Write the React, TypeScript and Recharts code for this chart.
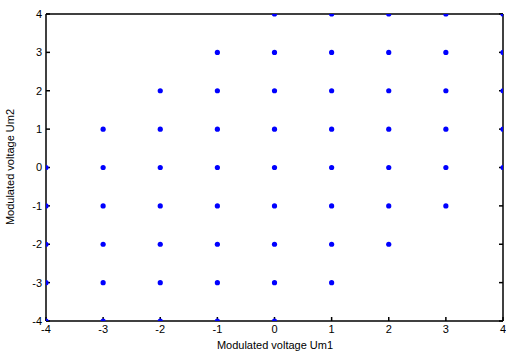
import React from 'react';
import { ScatterChart, Scatter, XAxis, YAxis, Label } from 'recharts';

// grid levels used for both axes
const LEVELS = [-4, -3, -2, -1, 0, 1, 2, 3, 4];

// x positions of the dots on each Um2 row
const ROW_P4 = [0, 1, 2, 3, 4];
const ROW_P3 = [-1, 0, 1, 2, 3, 4];
const ROW_P2 = [-2, -1, 0, 1, 2, 3, 4];
const ROW_P1 = [-3, -2, -1, 0, 1, 2, 3, 4];
const ROW_0 = [-4, -3, -2, -1, 0, 1, 2, 3, 4];
const ROW_M1 = [-4, -3, -2, -1, 0, 1, 2, 3];
const ROW_M2 = [-4, -3, -2, -1, 0, 1, 2];
const ROW_M3 = [-4, -3, -2, -1, 0, 1];
const ROW_M4 = [-4, -3, -2, -1, 0];

const ROWS: [number, number[]][] = [
  [4, ROW_P4], [3, ROW_P3], [2, ROW_P2], [1, ROW_P1], [0, ROW_0],
  [-1, ROW_M1], [-2, ROW_M2], [-3, ROW_M3], [-4, ROW_M4],
];

const points = ROWS.flatMap(([y, xs]) => xs.map((x) => ({ x, y })));

const FONT = 'Liberation Sans, Arial, sans-serif';
const tickStyle = { fontSize: 11, fill: '#000', fontFamily: FONT };
const lineStyle = { stroke: '#000', strokeWidth: 1.5 };

const Dot = (props: any) => (
  <circle cx={props.cx} cy={props.cy} r={2.6} fill="#0000ff" />
);

const App: React.FC = () => {
  return (
    <div style={{ position: 'absolute', left: 0, top: 0, background: '#fff' }}>
      <ScatterChart width={506} height={356} margin={{ top: 0, right: 0, bottom: 0, left: 0 }}>
        <XAxis
          xAxisId="b" dataKey="x" type="number" domain={[-4, 4]} ticks={LEVELS}
          allowDataOverflow height={35} tickSize={-4} tickMargin={8}
          axisLine={lineStyle} tickLine={lineStyle} tick={tickStyle} interval={0}
        >
          <Label
            content={() => (
              <text x={275} y={349} textAnchor="middle" fontSize={11} fontFamily={FONT} fill="#000">
                Modulated voltage Um1
              </text>
            )}
          />
        </XAxis>
        <XAxis
          xAxisId="t" orientation="top" type="number" domain={[-4, 4]} ticks={LEVELS}
          allowDataOverflow height={14} tickSize={-4}
          axisLine={lineStyle} tickLine={lineStyle} tickFormatter={() => ''} interval={0}
        />
        <YAxis
          yAxisId="l" dataKey="y" type="number" domain={[-4, 4]} ticks={LEVELS}
          allowDataOverflow width={46} tickSize={-4} tickMargin={8}
          axisLine={lineStyle} tickLine={lineStyle} tick={tickStyle} interval={0}
        >
          <Label
            content={() => (
              <text x={14} y={167} transform="rotate(-90 14 167)" textAnchor="middle"
                fontSize={11} fontFamily={FONT} fill="#000">
                Modulated voltage Um2
              </text>
            )}
          />
        </YAxis>
        <YAxis
          yAxisId="r" orientation="right" type="number" domain={[-4, 4]} ticks={LEVELS}
          allowDataOverflow width={3} tickSize={-4}
          axisLine={lineStyle} tickLine={lineStyle} tickFormatter={() => ''} interval={0}
        />
        <Scatter
          data={points} xAxisId="b" yAxisId="l" shape={Dot}
          isAnimationActive={false}
        />
      </ScatterChart>
    </div>
  );
};

export default App;
